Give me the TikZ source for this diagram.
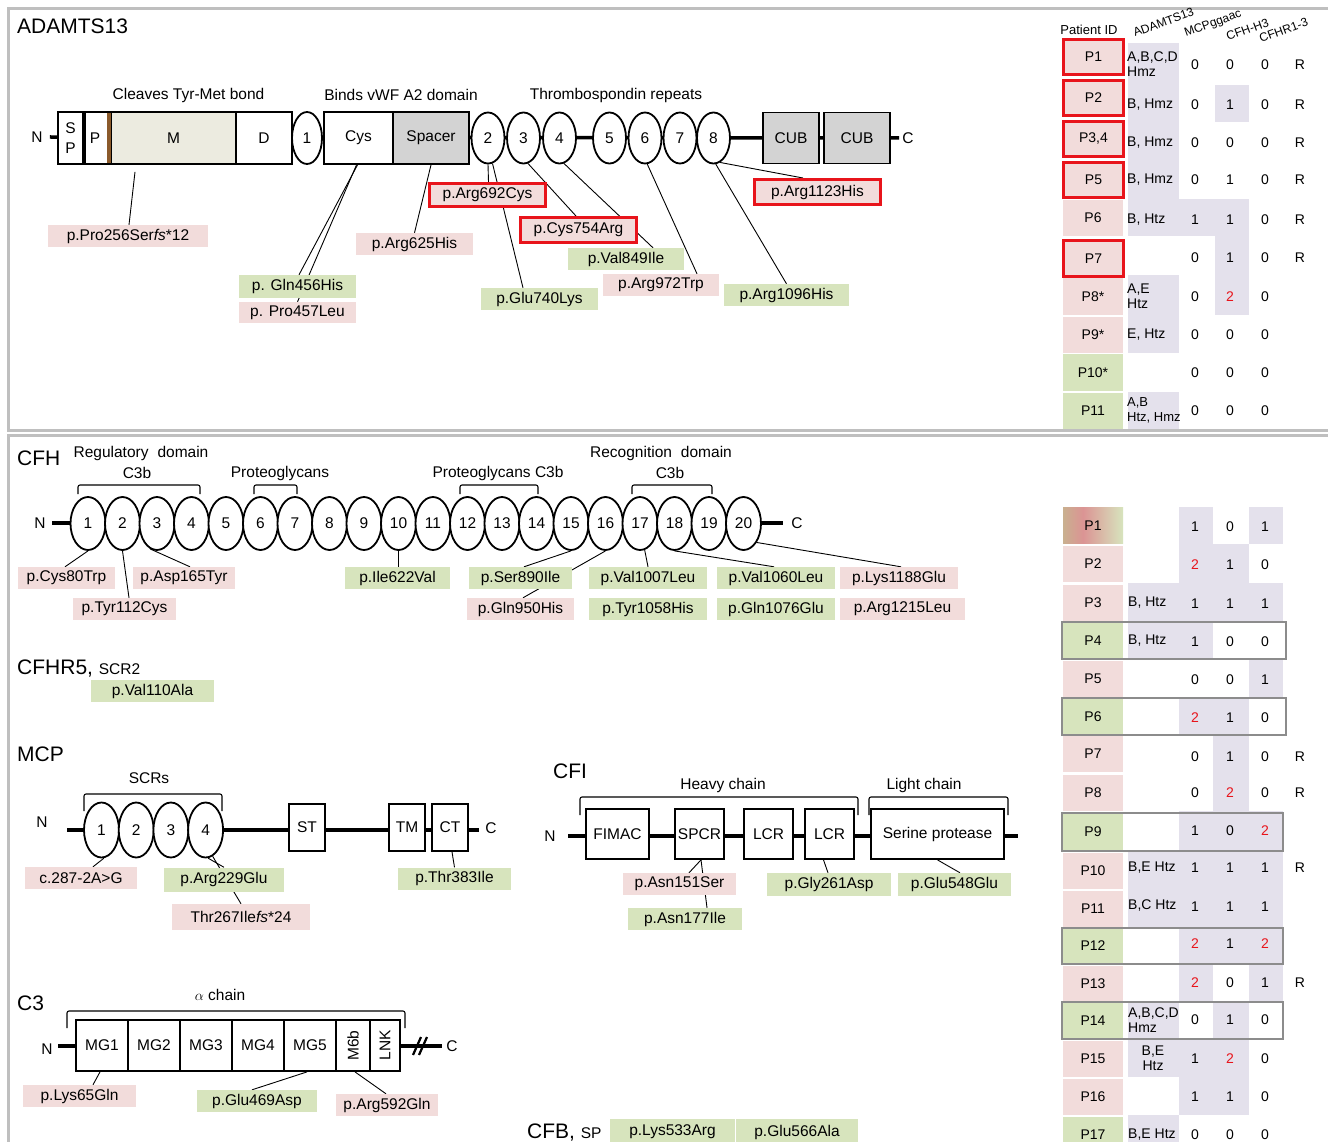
\documentclass[tikz,border=0pt]{standalone}
\usepackage{fontspec}
\setmainfont{Liberation Sans}
\usetikzlibrary{shapes.geometric,backgrounds}
\newcommand\fsz[1]{\fontsize{#1}{#1}\selectfont}
\newcommand\redtwo{\textcolor{rd}{2}}
\definecolor{pk}{HTML}{F2DCDB}
\definecolor{gn}{HTML}{D7E4BD}
\definecolor{lav}{HTML}{E4E1EC}
\definecolor{gy}{HTML}{D3D3D3}
\definecolor{beige}{HTML}{ECEBE0}
\definecolor{brn}{HTML}{8B5A2B}
\definecolor{rd}{HTML}{E8141B}
\definecolor{frm}{HTML}{BFBFBF}
\definecolor{olg}{HTML}{8C8C8C}
\definecolor{pone}{HTML}{C9B08F}
\definecolor{ptwo}{HTML}{DB9494}
\begin{document}
\begin{tikzpicture}[x=1pt,y=-1pt,
  lab/.style={inner sep=0pt, font=\fsz{15.5}},
  ttl/.style={inner sep=0pt, font=\fsz{21}, anchor=west},
  mut/.style={inner sep=0pt, minimum height=22pt, font=\fsz{15.5}},
  mp/.style={mut, fill=pk},
  mg/.style={mut, fill=gn},
  mr/.style={mut, fill=pk, draw=rd, line width=3pt},
  dom/.style={draw, line width=1.8pt, fill=white, inner sep=0pt, font=\fsz{15.5}},
  ell/.style={ellipse, draw, line width=1.8pt, fill=white, inner sep=0pt, font=\fsz{15.5}},
  bb/.style={line width=3.5pt},
  con/.style={line width=0.9pt},
  brk/.style={line width=1.1pt, rounded corners=2pt},
  tcell/.style={inner sep=0pt, font=\fsz{14}},
  pcell/.style={tcell, minimum width=60pt, minimum height=36pt},
  rcell/.style={pcell, fill=pk, draw=rd, line width=3pt, minimum height=35pt},
  hdr/.style={inner sep=0pt, font=\fsz{12}, rotate=20, anchor=base west},
  panel/.style={draw=frm, line width=3pt},
  rowbox/.style={draw=olg, line width=1.3pt}
]
\useasboundingbox (0,0) rectangle (1328,1142);
\begin{scope}[on background layer]
\fill[white] (0,0) rectangle (1328,1142);
\end{scope}

% panels
\draw[panel] (1330,8.5) -- (8.5,8.5) -- (8.5,430.5) -- (1330,430.5);
\draw[panel] (1330,435.5) -- (8.5,435.5) -- (8.5,1145);

% ================= ADAMTS13 =================
\node[ttl] (tA) at (17,26) {ADAMTS13};
\node[lab] (aL1) at (188.5,95) {Cleaves Tyr-Met bond};
\node[lab] (aL2) at (401,95) {Binds vWF A2 domain};
\node[lab] (aL3) at (616,95) {Thrombospondin repeats};
\node[lab] (aN) at (37,137) {N};
\node[dom, minimum width=25, minimum height=52, align=center] (aSP) at (70.5,138) {S\\[5pt]P};
\node[dom, minimum width=26, minimum height=52] (aP) at (98,138) {\hspace*{-6pt}P};
\node[dom, fill=beige, minimum width=125, minimum height=52] (aM) at (173.5,138) {M};
\fill[brn] (106.5,113) rectangle (111,163);
\node[dom, minimum width=56, minimum height=52] (aD) at (264,138) {D};
\node[ell, minimum width=30, minimum height=52] (ae1) at (307,138) {1};
\node[dom, minimum width=69, minimum height=52] (aCys) at (358.5,138) {Cys};
\node[dom, fill=gy, minimum width=76, minimum height=52] (aSp) at (431,138) {Spacer};
\foreach \i/\x in {2/488,3/523.5,4/559.5,5/609.5,6/645,7/680,8/713.5}
  \node[ell, minimum width=33, minimum height=51] (ae\i) at (\x,138) {\i};
\node[dom, fill=gy, minimum width=56, minimum height=51] (aCUB1) at (791,138) {CUB};
\node[dom, fill=gy, minimum width=66, minimum height=51] (aCUB2) at (857,138) {CUB};
\node[lab] (aC) at (908,138) {C};

\node[mp, minimum width=160] (a1) at (128,236) {p.Pro256Ser\textit{fs}*12};
\node[mg, minimum width=117, minimum height=23] (a2) at (297.5,286.5) {p. Gln456His};
\node[mp, minimum width=117, minimum height=21] (a3) at (297.5,312.5) {p. Pro457Leu};
\node[mp, minimum width=117] (a4) at (414.5,244) {p.Arg625His};
\node[mr, minimum width=116, minimum height=23] (a5) at (487.5,195) {p.Arg692Cys};
\node[mg, minimum width=117] (a6) at (539.5,299) {p.Glu740Lys};
\node[mr, minimum width=116, minimum height=25] (a7) at (578.5,230) {p.Cys754Arg};
\node[mg, minimum width=116] (a8) at (626,259) {p.Val849Ile};
\node[mp, minimum width=116] (a9) at (661,285) {p.Arg972Trp};
\node[mg, minimum width=125] (a10) at (786.5,295) {p.Arg1096His};
\node[mr, minimum width=126, minimum height=25] (a11) at (817.5,192) {p.Arg1123His};

\begin{scope}[on background layer]
\draw[bb] ([xshift=7pt]aN.east) -- ([xshift=-3pt]aC.west);
\draw[con] ([shift={(-38.5,7)}]aM.south) -- ([xshift=1pt]a1.north);
\draw[con] ([xshift=-1pt]aCys.south) -- ([xshift=1.5pt]a2.north);
\draw[con] ([xshift=-2pt]aCys.south) -- (a3.north);
\draw[con] (aSp.south) -- (a4.north);
\draw[con] (ae2.south) -- ([xshift=1pt]a5.north);
\draw[con] (ae2.280) -- ([xshift=-16.5pt]a6.north);
\draw[con] (ae3.280) -- ([xshift=-2.5pt]a7.north);
\draw[con] (ae4.280) -- ([xshift=27pt]a8.north);
\draw[con] (ae6.275) -- ([xshift=36pt]a9.north);
\draw[con] (ae8.275) -- (a10.north);
\draw[con] (ae8.285) -- ([xshift=-14.5pt]a11.north);
\end{scope}

% ================= top table =================
\fill[lav] (1128,43) rectangle (1179,236);
\fill[lav] (1179,199) rectangle (1249,236);
\fill[lav] (1215,85) rectangle (1249,122);
\fill[lav] (1215,236) rectangle (1249,315);
\fill[lav] (1128,275) rectangle (1179,353);
\fill[lav] (1128,392) rectangle (1179,429);

\node[inner sep=0pt, font=\fsz{13}] (tPID) at (1089,30) {Patient ID};
\node[hdr] (th1) at (1135,37) {ADAMTS13};
\node[hdr] (th2) at (1186,37) {MCPggaac};
\node[hdr] (th3) at (1228,41) {CFH-H3};
\node[hdr] (th4) at (1261,43) {CFHR1-3};

\node[rcell] (tp1) at (1093.5,57) {P1};
\node[rcell] (tp2) at (1093.5,98) {P2};
\node[rcell] (tp3) at (1093.5,139) {P3,4};
\node[rcell] (tp4) at (1093.5,180) {P5};
\node[pcell, fill=pk] (tp5) at (1093,218) {P6};
\node[rcell] (tp6) at (1093.5,258.5) {P7};
\node[pcell, fill=pk, minimum height=37] (tp7) at (1093,296.5) {P8*};
\node[pcell, fill=pk] (tp8) at (1093,335) {P9*};
\node[pcell, fill=gn, minimum height=37] (tp9) at (1093,372.5) {P10*};
\node[pcell, fill=gn] (tp10) at (1093,411) {P11};

\node[tcell, anchor=west, align=left] (tx1) at (1127,64.5) {A,B,C,D\\[1pt]Hmz};
\node[tcell, anchor=west] (tx2) at (1127,105) {B, Hmz};
\node[tcell, anchor=west] (tx3) at (1127,143) {B, Hmz};
\node[tcell, anchor=west] (tx4) at (1127,180) {B, Hmz};
\node[tcell, anchor=west] (tx5) at (1127,220) {B, Htz};
\node[tcell, anchor=west, align=left] (tx7) at (1127,296) {A,E\\[1pt]Htz};
\node[tcell, anchor=west] (tx8) at (1127,335) {E, Htz};
\node[tcell, anchor=west, align=left, font=\fsz{13}] (tx10) at (1127,410) {A,B\\[2pt]Htz, Hmz};

\foreach \y/\a/\b/\c/\d [count=\k] in {65/0/0/0/R,105/0/1/0/R,143/0/0/0/R,180/0/1/0/R,220/1/1/0/R,258/0/1/0/R,297/0/\redtwo/0/{},335/0/0/0/{},373/0/0/0/{},411/0/0/0/{}}{
  \node[tcell] (tva\k) at (1195,\y) {\a};
  \node[tcell] (tvb\k) at (1230,\y) {\b};
  \node[tcell] (tvc\k) at (1265,\y) {\c};
  \node[tcell] (tvd\k) at (1300,\y) {\d};
}

% ================= CFH =================
\node[ttl] (tH) at (17,458) {CFH};
\node[lab] (hR) at (141,453) {Regulatory\hspace{9pt}domain};
\node[lab] (hC1) at (137,473) {C3b};
\node[lab] (hP1) at (280,473) {Proteoglycans};
\node[lab] (hP2) at (498,473) {Proteoglycans C3b};
\node[lab] (hRc) at (661,453) {Recognition\hspace{9pt}domain};
\node[lab] (hC2) at (670,473) {C3b};
\draw[brk] (78,494) -- (78,485) -- (200,485) -- (200,494);
\draw[brk] (254,494) -- (254,485) -- (297,485) -- (297,494);
\draw[brk] (460,494) -- (460,485) -- (538,485) -- (538,494);
\draw[brk] (632,494) -- (632,485) -- (712,485) -- (712,494);
\node[lab] (hN) at (40,523) {N};
\node[lab] (hC) at (797,523) {C};
\foreach \i in {1,...,20}
  \node[ell, minimum width=35, minimum height=53] (h\i) at ({88+(\i-1)*34.5},523.5) {\i};

\node[mp, minimum width=97] (c1) at (66.5,578) {p.Cys80Trp};
\node[mp, minimum width=103] (c2) at (124.5,609) {p.Tyr112Cys};
\node[mp, minimum width=102] (c3) at (184,578) {p.Asp165Tyr};
\node[mg, minimum width=105] (c4) at (397.5,578) {p.Ile622Val};
\node[mg, minimum width=103] (c5) at (520.5,578) {p.Ser890Ile};
\node[mp, minimum width=107] (c6) at (520.5,609) {p.Gln950His};
\node[mg, minimum width=118] (c7) at (648,578) {p.Val1007Leu};
\node[mg, minimum width=118] (c8) at (648,609) {p.Tyr1058His};
\node[mg, minimum width=118] (c9) at (776,578) {p.Val1060Leu};
\node[mg, minimum width=118] (c10) at (776,609) {p.Gln1076Glu};
\node[mp, minimum width=118] (c11) at (899,578) {p.Lys1188Glu};
\node[mp, minimum width=125] (c12) at (902.5,609) {p.Arg1215Leu};

\begin{scope}[on background layer]
\draw[bb] ([xshift=6.5pt]hN.east) -- ([xshift=-8pt]hC.west);
\draw[con] (h1.south) -- ([xshift=-1.5pt]c1.north);
\draw[con] (h2.south) -- ([xshift=4.5pt]c2.north);
\draw[con] (h3.255) -- ([xshift=6pt]c3.north);
\draw[con] (h10.south) -- ([xshift=1pt]c4.north);
\draw[con] (h15.south) -- ([xshift=3.5pt]c5.north);
\draw[con] (h16.south) -- ([xshift=2.5pt]c6.north);
\draw[con] (h17.280) -- (c7.north);
\draw[con] (h18.south) -- ([xshift=-2pt]c9.north);
\draw[con] (h20.305) -- ([xshift=2pt]c11.north);
\end{scope}

% ================= CFHR5 =================
\node[anchor=base west, inner sep=0pt] (t5) at (17,674.5) {\fsz{21}CFHR5, \fsz{15.5}SCR2};
\node[mg, minimum width=123] (v1) at (152.5,691) {p.Val110Ala};

% ================= MCP =================
\node[ttl] (tM) at (17,754) {MCP};
\node[lab] (pS) at (149,778) {SCRs};
\draw[brk] (84,811) -- (84,794) -- (222,794) -- (222,811);
\node[lab] (pN) at (42,822) {N};
\coordinate (pB) at (67,830);
\coordinate (pE) at (479,830);
\foreach \i in {1,...,4}
  \node[ell, minimum width=35, minimum height=55] (p\i) at ({101.5+(\i-1)*34.7},830) {\i};
\node[dom, minimum width=36, minimum height=47] (pST) at (307,827.5) {ST};
\node[dom, minimum width=36, minimum height=47] (pTM) at (407,827.5) {TM};
\node[dom, minimum width=36, minimum height=47] (pCT) at (450,827.5) {CT};
\node[lab] (pC) at (491,828) {C};
\node[mp, minimum width=112] (m1) at (81,878) {c.287-2A>G};
\node[mg, minimum width=120, minimum height=24] (m2) at (224,879.5) {p.Arg229Glu};
\node[mp, minimum width=138, minimum height=26] (m3) at (241,917) {Thr267Ile\textit{fs}*24};
\node[mg, minimum width=113] (m4) at (454.5,878.5) {p.Thr383Ile};
\begin{scope}[on background layer]
\draw[bb] (pB) -- (pE);
\draw[con] (p1.275) -- ([xshift=12pt]m1.north);
\draw[con] (p4.275) -- (m2.north);
\draw[con] (p4.285) -- (m3.north);
\draw[con] ([xshift=2pt]pCT.south) -- (m4.north);
\end{scope}

% ================= CFI =================
\node[ttl] (tI) at (553,771) {CFI};
\node[lab] (iHc) at (723,785) {Heavy chain};
\node[lab] (iLc) at (924,785) {Light chain};
\draw[brk] (580,815) -- (580,797) -- (858,797) -- (858,815);
\draw[brk] (869,815) -- (869,797) -- (1008,797) -- (1008,815);
\node[lab] (iN) at (550,836) {N};
\coordinate (iB) at (568,836);
\coordinate (iE) at (1018,836);
\node[dom, minimum width=63, minimum height=50] (iF) at (617.5,834) {FIMAC};
\node[dom, minimum width=49, minimum height=50] (iS) at (699.5,834) {SPCR};
\node[dom, minimum width=49, minimum height=50] (iL1) at (768.5,834) {LCR};
\node[dom, minimum width=49, minimum height=50] (iL2) at (829.5,834) {LCR};
\node[dom, minimum width=133, minimum height=50] (iSP) at (937.5,834) {Serine protease};
\node[mp, minimum width=113] (f1) at (679.5,884) {p.Asn151Ser};
\node[mg, minimum width=114] (f2) at (685,919) {p.Asn177Ile};
\node[mg, minimum width=124, minimum height=23] (f3) at (829,884.5) {p.Gly261Asp};
\node[mg, minimum width=113, minimum height=23] (f4) at (954.5,884.5) {p.Glu548Glu};
\begin{scope}[on background layer]
\draw[bb] (iB) -- (iE);
\draw[con] ([xshift=1.5pt]iS.south) -- ([xshift=9.5pt]f1.north);
\draw[con] ([xshift=1.5pt]iS.south) -- ([xshift=22pt]f2.north);
\draw[con] ([xshift=-6pt]iL2.south) -- ([xshift=-1pt]f3.north);
\draw[con] (iSP.south) -- ([xshift=5.5pt]f4.north);
\end{scope}

% ================= C3 =================
\node[ttl] (t3) at (17,1003) {C3};
\node[lab] (kA) at (220,995) {$\alpha$ chain};
\draw[brk] (67,1028) -- (67,1011) -- (405,1011) -- (405,1028);
\node[lab] (kN) at (47,1049) {N};
\coordinate (kB) at (58,1046);
\node[dom, minimum width=52, minimum height=51] (k1b) at (102,1045.5) {MG1};
\node[dom, minimum width=52, minimum height=51] (k2b) at (154,1045.5) {MG2};
\node[dom, minimum width=52, minimum height=51] (k3b) at (206,1045.5) {MG3};
\node[dom, minimum width=52, minimum height=51] (k4b) at (258,1045.5) {MG4};
\node[dom, minimum width=52, minimum height=51] (k5b) at (310,1045.5) {MG5};
\node[dom, minimum width=34, minimum height=51] (k6b) at (353,1045.5) {\rotatebox{90}{M6b}};
\node[dom, minimum width=30, minimum height=51] (k7b) at (385,1045.5) {\rotatebox{90}{LNK}};
\node[lab] (kC) at (452,1046) {C};
\draw[line width=2.2pt] (413,1055) -- (421,1037);
\draw[line width=2.2pt] (419,1055) -- (427,1037);
\node[mp, minimum width=113] (k1) at (79.5,1096) {p.Lys65Gln};
\node[mg, minimum width=120] (k2) at (257,1101) {p.Glu469Asp};
\node[mp, minimum width=102] (k3) at (387,1105) {p.Arg592Gln};
\begin{scope}[on background layer]
\draw[bb] (kB) -- ([xshift=-4pt]kC.west);
\draw[con] ([xshift=-2pt]k1b.south) -- ([xshift=13.5pt]k1.north);
\draw[con] ([xshift=-3pt]k5b.south) -- ([xshift=-5pt]k2.north);
\draw[con] ([xshift=2pt]k6b.south) -- ([xshift=-1pt]k3.north);
\end{scope}

% ================= CFB =================
\node[anchor=base west, inner sep=0pt] (tB) at (527,1138.5) {\fsz{21}CFB, \fsz{15.5}SP};
\node[mg, minimum width=125, minimum height=26] (g1) at (672.5,1132) {p.Lys533Arg};
\node[mg, minimum width=122, minimum height=26] (g2) at (797,1132) {p.Glu566Ala};

% ================= bottom table =================
\foreach \a/\b/\c/\d in {1179/507/1213/544, 1249/507/1283/544, 1179/544/1249/583, 1128/583/1283/622, 1128/622/1213/659, 1249/659/1283/697, 1179/697/1249/735, 1213/735/1249/811, 1179/811/1283/851, 1128/851/1283/927, 1179/927/1283/964, 1179/964/1213/1002, 1249/964/1283/1002, 1128/1002/1179/1039, 1213/1002/1249/1039, 1128/1039/1249/1077, 1179/1077/1249/1115, 1128/1115/1179/1150}
  \fill[lav] (\a,\b) rectangle (\c,\d);

\shade[left color=pone, right color=ptwo] (1063,507.5) rectangle (1083,543.5);
\shade[left color=ptwo, right color=gn] (1083,507.5) rectangle (1123,543.5);
\node[pcell] (bp1) at (1093,525.5) {P1};
\foreach \y/\t/\c [count=\k from 2] in {563.5/P2/pk, 602.5/P3/pk, 640.5/P4/gn, 678.5/P5/pk, 716.5/P6/gn, 754/P7/pk, 792.5/P8/pk, 832/P9/gn, 870.5/P10/pk, 909/P11/pk, 946/P12/gn, 984/P13/pk, 1020.5/P14/gn, 1059/P15/pk, 1096.5/P16/pk, 1135/P17/gn}
  \node[pcell, fill=\c] (bp\k) at (1093,\y) {\t};

\node[tcell, anchor=west] (bx3) at (1128,603) {B, Htz};
\node[tcell, anchor=west] (bx4) at (1128,641) {B, Htz};
\node[tcell, anchor=west] (bx10) at (1128,868) {B,E Htz};
\node[tcell, anchor=west] (bx11) at (1128,906) {B,C Htz};
\node[tcell, anchor=west, align=left] (bx14) at (1128,1020) {A,B,C,D\\[1pt]Hmz};
\node[tcell, align=center] (bx15) at (1153,1058) {B,E\\[1pt]Htz};
\node[tcell, anchor=west] (bx17) at (1128,1135) {B,E Htz};

\foreach \y/\a/\b/\c/\d [count=\k] in {527/1/0/1/{}, 565/\redtwo/1/0/{}, 604/1/1/1/{}, 642/1/0/0/{}, 680/0/0/1/{}, 718/\redtwo/1/0/{}, 757/0/1/0/R, 793/0/\redtwo/0/R, 831/1/0/\redtwo/{}, 868/1/1/1/R, 907/1/1/1/{}, 944/\redtwo/1/\redtwo/{}, 983/\redtwo/0/1/R, 1020/0/1/0/{}, 1059/1/\redtwo/0/{}, 1097/1/1/0/{}, 1135/0/0/0/{}}{
  \node[tcell] (bva\k) at (1195,\y) {\a};
  \node[tcell] (bvb\k) at (1230,\y) {\b};
  \node[tcell] (bvc\k) at (1265,\y) {\c};
  \node[tcell] (bvd\k) at (1300,\y) {\d};
}

\draw[rowbox] (1062,622) rectangle (1286,659);
\draw[rowbox] (1062,698) rectangle (1286,735);
\draw[rowbox] (1062,813) rectangle (1283,851);
\draw[rowbox] (1062,928) rectangle (1283,964);
\draw[rowbox] (1062,1002) rectangle (1283,1039);
\end{tikzpicture}
\end{document}
